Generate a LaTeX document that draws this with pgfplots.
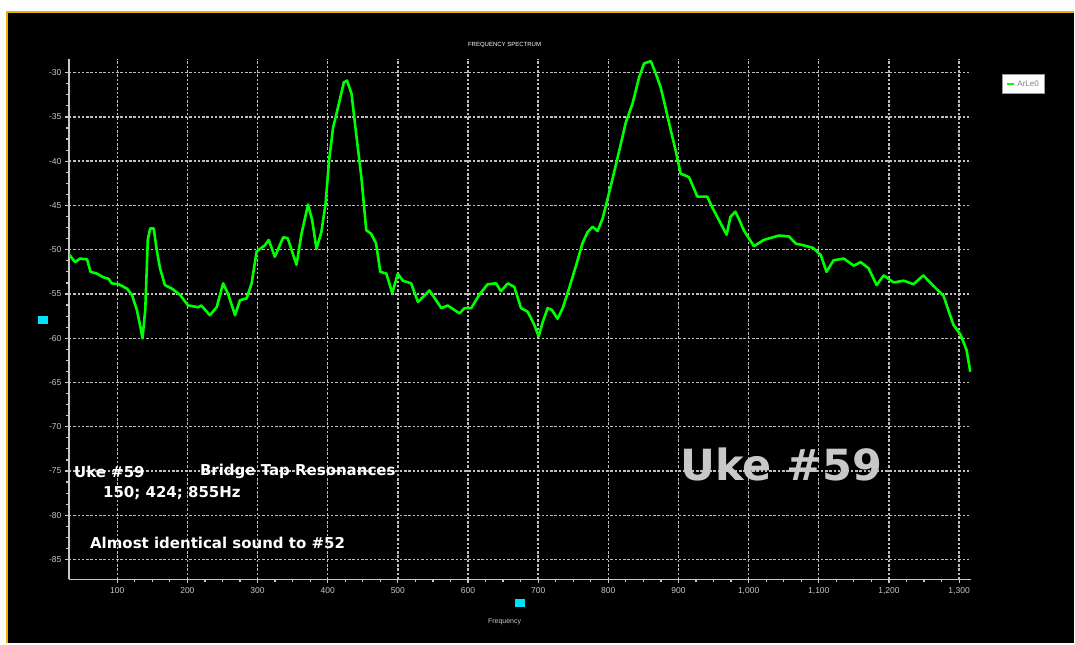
\documentclass[border=0pt]{standalone}
\usepackage{pgfplots}
\pgfplotsset{compat=1.18}
\usepackage{fontspec}
\setmainfont{Liberation Sans}
\newfontfamily\annot{DejaVu Sans}
\definecolor{gold}{HTML}{E8B400}
\definecolor{lgray}{HTML}{C8C8C8}
\definecolor{gridc}{HTML}{BEBEBE}
\definecolor{cyanbox}{HTML}{00E0FF}
\definecolor{curve}{HTML}{00FF00}
\begin{document}
\begin{tikzpicture}[x=1pt,y=1pt]
\fill[white] (0,0) rectangle (1075,644);
\fill[black] (7,0) rectangle (1075,632);
\draw[gold, line width=2pt] (7.5,0) -- (7.5,631.5) -- (1075,631.5);
\begin{axis}[
  at={(69pt,64pt)}, anchor=south west,
  scale only axis, width=903pt, height=521pt,
  xmin=31.2, xmax=1317.1, ymin=-87.25, ymax=-28.45,
  axis x line*=bottom, axis y line*=left,
  axis line style={draw=lgray, line width=1.6pt},
  xtick={100,200,...,1300}, ytick={-85,-80,...,-30},
  minor tick num=3,
  tick align=outside,
  major tick length=4pt, minor tick length=3pt,
  tick style={draw=lgray, line width=1.2pt},
  grid=major,
  major grid style={draw=gridc, dash pattern=on 2.5pt off 1.8pt, line width=1.4pt},
  /pgf/number format/assume math mode=true,
  /pgf/number format/1000 sep={,},
  tick label style={font=\fontsize{8.5}{9}\selectfont, text=lgray},
  xticklabel style={yshift=-1pt},
  legend style={at={(1.034,0.971)}, anchor=north west, fill=white, draw=gray!80,
    font=\fontsize{8}{9}\selectfont, text=gray, inner xsep=4pt, inner ysep=4pt, line width=1.2pt},
  legend image code/.code={\draw[curve, line width=2pt] (0,0) -- (0.25cm,0);},
]
\addplot[curve, line width=2.6pt, line join=round] table {
31 -50.5
40 -51.4
47 -51.0
57 -51.1
62 -52.5
71 -52.7
80 -53.1
88 -53.3
92 -53.8
102 -53.9
114 -54.4
121 -55.1
128 -56.8
133 -58.7
136 -60.0
140 -56.8
143.6 -48.9
147 -47.6
152 -47.6
156.5 -50.1
161 -52.1
168 -54.0
178 -54.4
189.5 -55.1
201 -56.3
215.6 -56.5
220 -56.3
232 -57.4
241.8 -56.5
251 -53.8
258 -55.0
268 -57.4
275 -55.7
284.5 -55.5
291.6 -53.8
298.7 -50.2
310.5 -49.5
316 -48.9
324.7 -50.8
336.6 -48.6
343 -48.7
355.6 -51.7
362.7 -48.2
372 -44.9
378 -46.7
384 -49.9
391 -48.0
397 -44.8
402 -39.9
407.7 -36.2
416 -33.5
423 -31.1
427.6 -30.9
434 -32.4
440 -36.5
448 -41.8
455 -47.8
462 -48.2
469 -49.3
475 -52.5
483.6 -52.7
492 -54.9
500 -52.7
507 -53.5
519 -53.8
528.6 -55.9
545 -54.6
562 -56.6
571 -56.3
588 -57.2
595 -56.6
604.6 -56.6
616 -55.1
628 -53.9
640 -53.8
647 -54.7
656.6 -53.8
666 -54.2
675.6 -56.6
685 -57.0
694.6 -58.5
700.7 -59.8
706 -58.3
713.5 -56.6
719.6 -56.8
727.6 -57.8
735 -56.6
744 -54.4
754 -51.8
763 -49.3
770.5 -48.0
777.6 -47.4
784.6 -47.9
791.8 -46.5
796.6 -45.0
806 -42.0
815.6 -38.8
825 -35.6
834.5 -33.5
844 -30.5
851 -28.95
860.6 -28.7
867.7 -30.1
874.8 -31.7
882 -34.1
889 -36.5
896 -38.8
903 -41.4
915 -41.8
927 -44.0
941 -44.0
948 -45.2
960 -47.0
968.6 -48.3
974 -46.3
981 -45.7
986 -46.5
993 -47.8
1007.5 -49.6
1021.6 -48.9
1043 -48.4
1057.5 -48.5
1067 -49.3
1078 -49.5
1092 -49.8
1102.8 -50.6
1111 -52.5
1121 -51.2
1135.6 -51.0
1149.8 -51.8
1159.7 -51.4
1171 -52.1
1182.5 -54.0
1192.5 -52.9
1206.7 -53.7
1221 -53.5
1235 -53.9
1249 -52.9
1263.6 -54.1
1277.8 -55.2
1285 -56.9
1292 -58.5
1302 -59.6
1310.5 -61.3
1316 -63.8
};
\addlegendentry{ArLe0}
\end{axis}
\node[white, font=\fontsize{6}{7}\selectfont] at (505,599) {FREQUENCY SPECTRUM};
\node[lgray, font=\fontsize{7}{8}\selectfont] at (505,22) {Frequency};
\fill[cyanbox] (515,36) rectangle (525,44);
\fill[cyanbox] (38,320) rectangle (48,328);
\node[anchor=west, inner sep=0, white, font=\annot\bfseries\fontsize{15}{18}\selectfont] at (74,172) {Uke \#59};
\node[anchor=west, inner sep=0, white, font=\annot\bfseries\fontsize{15}{18}\selectfont] at (200,172) {Bridge Tap Resonances};
\node[anchor=west, inner sep=0, white, font=\annot\bfseries\fontsize{15}{18}\selectfont] at (103,151) {150; 424; 855Hz};
\node[anchor=west, inner sep=0, white, font=\annot\bfseries\fontsize{15}{18}\selectfont] at (90,101) {Almost identical sound to \#52};
\node[lgray, font=\annot\bfseries\fontsize{43}{50}\selectfont] at (782,179) {Uke \#59};
\end{tikzpicture}
\end{document}
